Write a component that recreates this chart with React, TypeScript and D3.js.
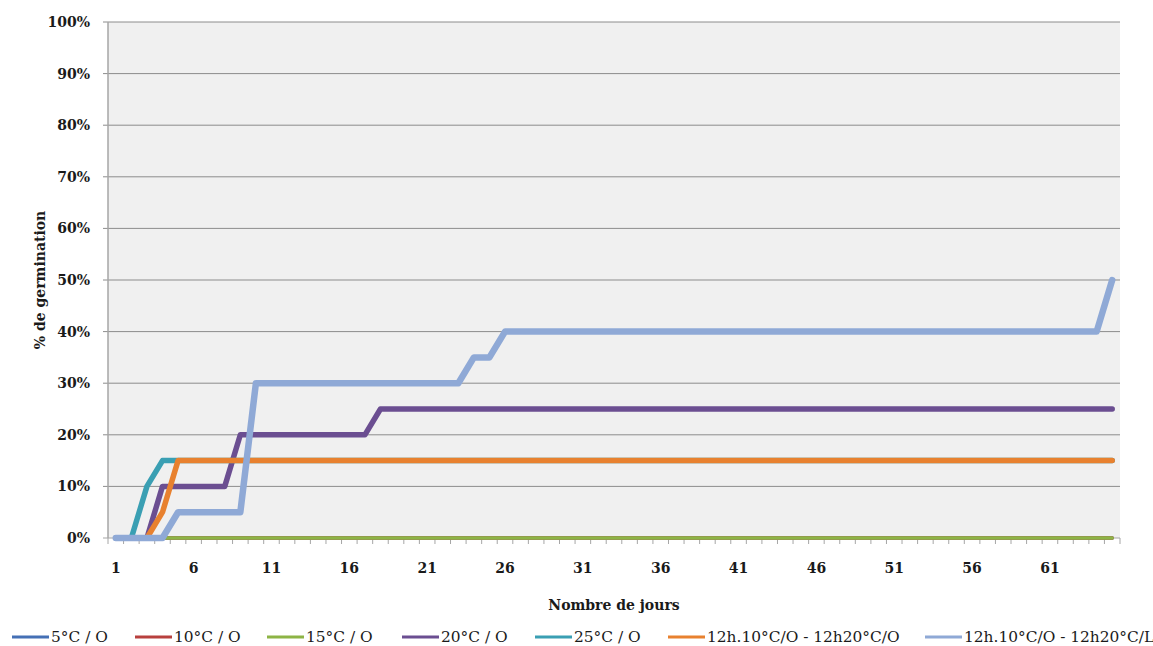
import React from "react";
import * as d3 from "d3";

const days: number[] = d3.range(1, 66);
const tickLabels: number[] = [1, 6, 11, 16, 21, 26, 31, 36, 41, 46, 51, 56, 61];
const yTicks: number[] = [0, 10, 20, 30, 40, 50, 60, 70, 80, 90, 100];

const seriesNames: string[] = [
  "5°C / O",
  "10°C / O",
  "15°C / O",
  "20°C / O",
  "25°C / O",
  "12h.10°C/O - 12h20°C/O",
  "12h.10°C/O - 12h20°C/L",
];

const rep = (v: number, n: number) => Array(n).fill(v);

const s5C: number[] = rep(0, 65);
const s10C: number[] = rep(0, 65);
const s15C: number[] = rep(0, 65);
const s20C: number[] = [...rep(0, 3), ...rep(10, 5), ...rep(20, 9), ...rep(25, 48)];
const s25C: number[] = [0, 0, 10, ...rep(15, 62)];
const sAltO: number[] = [0, 0, 0, 5, ...rep(15, 61)];
const sAltL: number[] = [...rep(0, 4), ...rep(5, 5), ...rep(30, 14), 35, 35, ...rep(40, 39), 50];

const seriesValues: number[][] = [s5C, s10C, s15C, s20C, s25C, sAltO, sAltL];
const colors: string[] = ["#4570B5", "#B8403E", "#8DB445", "#6B4E91", "#3A9FB3", "#E8812F", "#8FA9D6"];
const widths: number[] = [3.5, 3.5, 3.5, 5.5, 5.5, 5.5, 6.5];
const legendX: number[] = [12, 135, 267, 402, 535, 668, 925];

const W = 1153;
const H = 646;
const left = 108;
const right = 1120;
const top = 22;
const bottom = 538;
const FONT = "'DejaVu Serif', serif";

export default function App() {
  const x = d3.scaleBand<number>().domain(days).range([left, right]).padding(0);
  const y = d3.scaleLinear().domain([0, 100]).range([bottom, top]);
  const cx = (d: number) => (x(d) as number) + x.bandwidth() / 2;
  const line = d3
    .line<number>()
    .x((_, i) => cx(days[i]))
    .y((v) => y(v));

  const boundaries = d3.range(0, days.length + 1).map((i) => left + i * x.bandwidth());

  return (
    <svg width={W} height={H} style={{ position: "absolute", left: 0, top: 0, background: "#fff" }}>
      <rect x={left} y={top} width={right - left} height={bottom - top} fill="#F0F0F0" />
      {yTicks.map((t) => (
        <g key={t}>
          {t > 0 && (
            <line x1={left - 5} x2={right} y1={y(t)} y2={y(t)} stroke="#8C8C8C" strokeWidth={1} />
          )}
          <text
            x={90}
            y={y(t) + 5}
            textAnchor="end"
            fontFamily={FONT}
            fontWeight="bold"
            fontSize={14}
            fill="#1a1a1a"
          >
            {t}%
          </text>
        </g>
      ))}
      <line x1={left} x2={left} y1={top} y2={bottom} stroke="#A6A6A6" strokeWidth={1.5} />
      <line x1={left - 5} x2={right} y1={bottom} y2={bottom} stroke="#A6A6A6" strokeWidth={1.2} />
      {boundaries.map((bx, i) => (
        <line key={i} x1={bx} x2={bx} y1={bottom} y2={bottom + 6} stroke="#A6A6A6" strokeWidth={1} />
      ))}
      {tickLabels.map((d) => (
        <text
          key={d}
          x={cx(d)}
          y={573}
          textAnchor="middle"
          fontFamily={FONT}
          fontWeight="bold"
          fontSize={14}
          fill="#1a1a1a"
        >
          {d}
        </text>
      ))}
      {seriesValues.map((vals, i) => (
        <path
          key={i}
          d={line(vals) as string}
          fill="none"
          stroke={colors[i]}
          strokeWidth={widths[i]}
          strokeLinejoin="round"
          strokeLinecap="round"
        />
      ))}
      <text
        x={(left + right) / 2}
        y={610}
        textAnchor="middle"
        fontFamily={FONT}
        fontWeight="bold"
        fontSize={14}
        fill="#1a1a1a"
      >
        Nombre de jours
      </text>
      <text
        transform={`translate(45, ${(top + bottom) / 2}) rotate(-90)`}
        textAnchor="middle"
        fontFamily={FONT}
        fontWeight="bold"
        fontSize={14}
        fill="#1a1a1a"
      >
        % de germination
      </text>
      {seriesNames.map((name, i) => (
        <g key={name}>
          <line
            x1={legendX[i]}
            x2={legendX[i] + 37}
            y1={637}
            y2={637}
            stroke={colors[i]}
            strokeWidth={3}
          />
          <text x={legendX[i] + 39} y={642} fontFamily={FONT} fontSize={15.4} fill="#1a1a1a">
            {name}
          </text>
        </g>
      ))}
    </svg>
  );
}
